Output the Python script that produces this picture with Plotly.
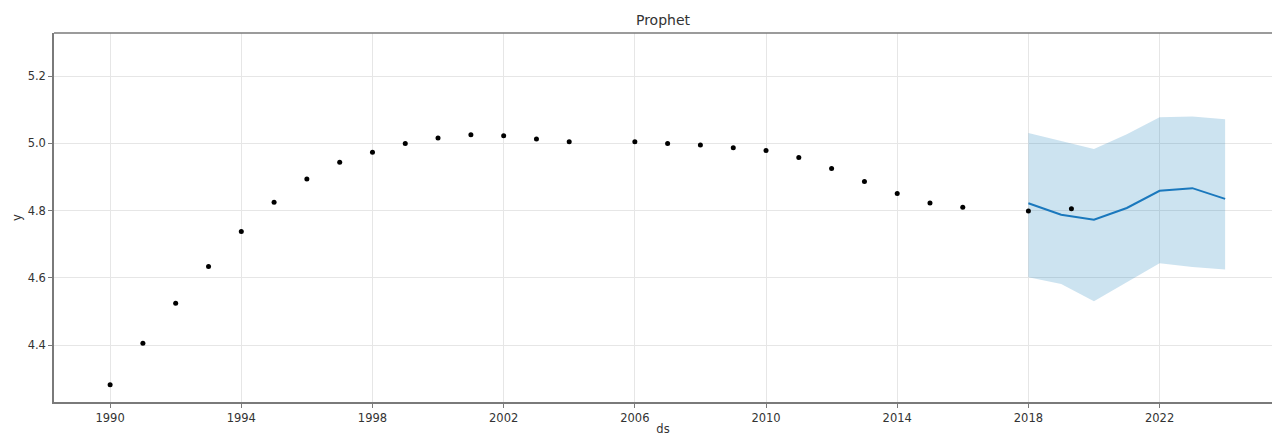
import plotly.graph_objects as go

# Observed history
obs_ds = ["1990-01-01", "1991-01-01", "1992-01-01", "1993-01-01", "1994-01-01",
          "1995-01-01", "1996-01-01", "1997-01-01", "1998-01-01", "1999-01-01",
          "2000-01-01", "2001-01-01", "2002-01-01", "2003-01-01", "2004-01-01",
          "2006-01-01", "2007-01-01", "2008-01-01", "2009-01-01", "2010-01-01",
          "2011-01-01", "2012-01-01", "2013-01-01", "2014-01-01", "2015-01-01",
          "2016-01-01", "2018-01-01", "2019-04-25"]
obs_y = [4.283, 4.406, 4.525, 4.634, 4.738,
         4.825, 4.894, 4.944, 4.974, 5.000,
         5.016, 5.026, 5.023, 5.013, 5.005,
         5.005, 5.000, 4.995, 4.987, 4.979,
         4.958, 4.925, 4.887, 4.851, 4.823,
         4.810, 4.799, 4.806]

# Forecast
fc_ds = ["2018-01-01", "2019-01-01", "2020-01-01", "2021-01-01",
         "2022-01-01", "2023-01-01", "2024-01-01"]
yhat = [4.822, 4.788, 4.773, 4.808, 4.859, 4.867, 4.835]
yhat_upper = [5.031, 5.007, 4.983, 5.027, 5.078, 5.080, 5.072]
yhat_lower = [4.602, 4.582, 4.531, 4.588, 4.644, 4.633, 4.625]

x_range = ["1988-04-16", "2025-06-06"]
y_range = [4.2315, 5.328]
y_ticks = [4.4, 4.6, 4.8, 5.0, 5.2]

FONT = "DejaVu Sans"
TXT = "#333333"
BLUE = "#1a78bd"

fig = go.Figure()
fig.add_trace(go.Scatter(x=fc_ds, y=yhat_upper, mode="lines",
                         line=dict(width=0, color=BLUE), showlegend=False,
                         hoverinfo="skip"))
fig.add_trace(go.Scatter(x=fc_ds, y=yhat_lower, mode="lines",
                         line=dict(width=0, color=BLUE), fill="tonexty",
                         fillcolor="rgba(0,114,178,0.2)", showlegend=False,
                         hoverinfo="skip"))
fig.add_trace(go.Scatter(x=fc_ds, y=yhat, mode="lines",
                         line=dict(width=2, color=BLUE), showlegend=False))
fig.add_trace(go.Scatter(x=obs_ds, y=obs_y, mode="markers",
                         marker=dict(size=5, color="black"), showlegend=False))

fig.update_layout(
    width=1272, height=436,
    margin=dict(l=54, r=0, t=33, b=34),
    paper_bgcolor="white", plot_bgcolor="white",
    font=dict(family=FONT, size=11.5, color=TXT),
    title=dict(text="Prophet", x=0.5, xref="paper", xanchor="center",
               y=1, yref="container", yanchor="top", pad=dict(t=15),
               font=dict(family=FONT, size=14, color=TXT)),
    showlegend=False,
)
fig.update_xaxes(
    type="date", range=x_range, tick0="1990-01-01", dtick="M48",
    tickformat="%Y", showgrid=True, gridcolor="#e6e6e6", gridwidth=1,
    showline=True, linecolor="#7a7a7a", linewidth=1.5,
    ticks="outside", ticklen=4, tickcolor="#7a7a7a",
    zeroline=False, automargin=False,
    title=dict(text="ds", standoff=9, font=dict(family=FONT, size=11.5, color=TXT)),
)
fig.update_yaxes(
    range=y_range, tickvals=y_ticks, ticktext=[f"{v:.1f}" for v in y_ticks],
    showgrid=True, gridcolor="#e6e6e6", gridwidth=1,
    showline=True, linecolor="#7a7a7a", linewidth=1.5,
    ticks="outside", ticklen=4, tickcolor="#7a7a7a",
    zeroline=False, automargin=False,
    title=dict(text="y", standoff=4, font=dict(family=FONT, size=11.5, color=TXT)),
)
# top frame line (right side of the box lies outside the picture)
fig.add_shape(type="line", xref="paper", yref="paper", x0=0, x1=1, y0=1, y1=1,
              line=dict(color="#7a7a7a", width=1.5))

fig.write_html("out.html")
